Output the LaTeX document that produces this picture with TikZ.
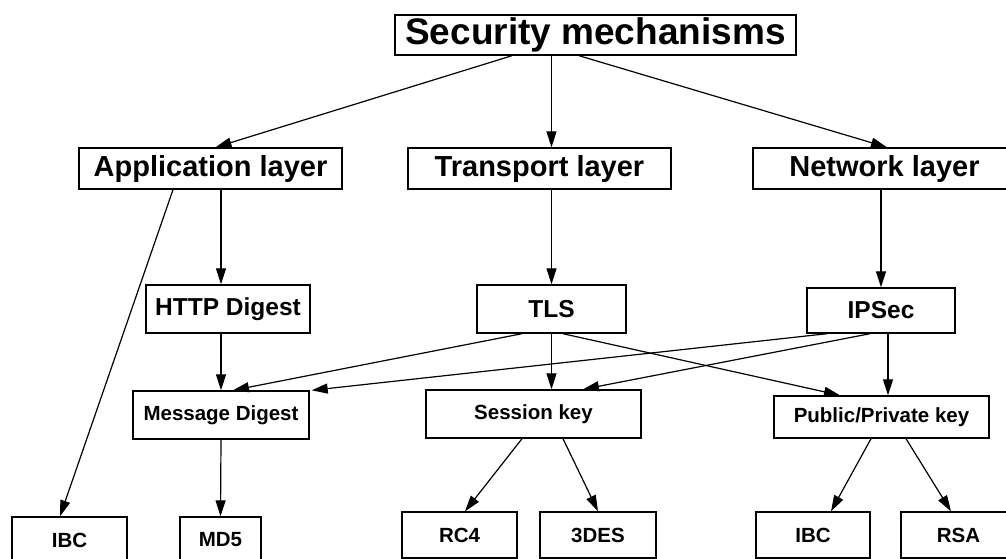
\documentclass[tikz,border=0pt]{standalone}
\usepackage{fontspec}
\setmainfont{Liberation Sans}
\usetikzlibrary{arrows.meta,positioning}

\begin{document}
\begin{tikzpicture}[
  x=1pt,y=-1pt,
  box/.style={draw,rectangle,line width=1.4pt,inner sep=0pt,font=\bfseries},
  top/.style={box,font=\bfseries\fontsize{37}{40}\selectfont},
  layer/.style={box,font=\bfseries\fontsize{29}{32}\selectfont},
  proto/.style={box,font=\bfseries\fontsize{24.5}{28}\selectfont},
  mech/.style={box,font=\bfseries\fontsize{20.5}{24}\selectfont},
  arr/.style={-{Triangle[length=16pt,width=10pt]},line width=1.2pt}
]
\useasboundingbox (0,0) rectangle (1006,558);
\clip (0,0) rectangle (1006,558);
\node[top,minimum width=401pt,minimum height=40pt] (sec) at (595.5,35) {Security mechanisms};
% layers
\node[layer,minimum width=263pt,minimum height=41pt] (app) at (210.5,168.5) {Application layer};
\node[layer,minimum width=263pt,minimum height=41pt] (trn) at (539.5,168.5) {Transport layer};
\node[layer,minimum width=263pt,minimum height=41pt] (net) at (884.5,168.5) {Network layer};
% protocols
\node[proto,minimum width=164pt,minimum height=48pt] (http) at (228,309) {HTTP Digest};
\node[proto,minimum width=149pt,minimum height=48pt] (tls) at (551.5,309) {TLS};
\node[proto,minimum width=148pt,minimum height=45pt] (ips) at (881,310.5) {IPSec};
% mechanisms
\node[mech,minimum width=176pt,minimum height=48pt] (mdg) at (221,415) {Message Digest};
\node[mech,minimum width=215pt,minimum height=48pt] (ses) at (533.5,414) {Session key};
\node[mech,minimum width=215pt,minimum height=42pt] (ppk) at (881.5,417) {Public/Private key};
% algorithms
\node[mech,minimum width=115pt,minimum height=46pt] (ibcA) at (69.5,540) {IBC};
\node[mech,minimum width=81pt,minimum height=46pt] (md5) at (220.5,540) {MD5};
\node[mech,minimum width=115pt,minimum height=46pt] (rc4) at (459.5,535) {RC4};
\node[mech,minimum width=116pt,minimum height=46pt] (des) at (598,535) {3DES};
\node[mech,minimum width=114pt,minimum height=46pt] (ibcB) at (813,535) {IBC};
\node[mech,minimum width=115pt,minimum height=46pt] (rsa) at (958.5,535) {RSA};
% Arrows
\draw[arr] ([xshift=-83.5pt]sec.south) -- ([xshift=5pt]app.north);
\draw[arr] (sec.south -| tls) -- (trn.north -| tls);
\draw[arr] ([xshift=-16.5pt]sec.south) -- ([xshift=2.5pt]net.north);
\draw[arr] ([xshift=-37.5pt]app.south) -- ([xshift=-9.5pt]ibcA.north);
\draw[arr] (app.south -| mdg) -- (http.north -| mdg);
\draw[arr] (trn.south -| tls) -- (tls.north);
\draw[arr] (net.south -| ips) -- (ips.north);
\draw[arr] (http.south -| mdg) -- (mdg.north);
\draw[arr] ([xshift=-29.5pt]tls.south) -- ([xshift=12pt]mdg.north);
\draw[arr] (tls.south) -- (tls.south |- ses.north);
\draw[arr] ([xshift=11.5pt]tls.south) -- ([xshift=-41.5pt]ppk.north);
\draw[arr] ([xshift=-54pt]ips.south) -- ([xshift=2pt]mdg.north east);
\draw[arr] ([xshift=-11pt]ips.south) -- ([xshift=49.5pt]ses.north);
\draw[arr] ([xshift=7pt]ips.south) -- ([xshift=7pt]ips.south |- ppk.north);
\draw[arr] (mdg.south) -- (md5.north);
\draw[arr] ([xshift=-11.5pt]ses.south) -- ([xshift=5.5pt]rc4.north);
\draw[arr] ([xshift=29.5pt]ses.south) -- (des.north);
\draw[arr] ([xshift=-10.5pt]ppk.south) -- ([xshift=18pt]ibcB.north);
\draw[arr] ([xshift=24.5pt]ppk.south) -- ([xshift=-7.5pt]rsa.north);
\end{tikzpicture}
\end{document}
